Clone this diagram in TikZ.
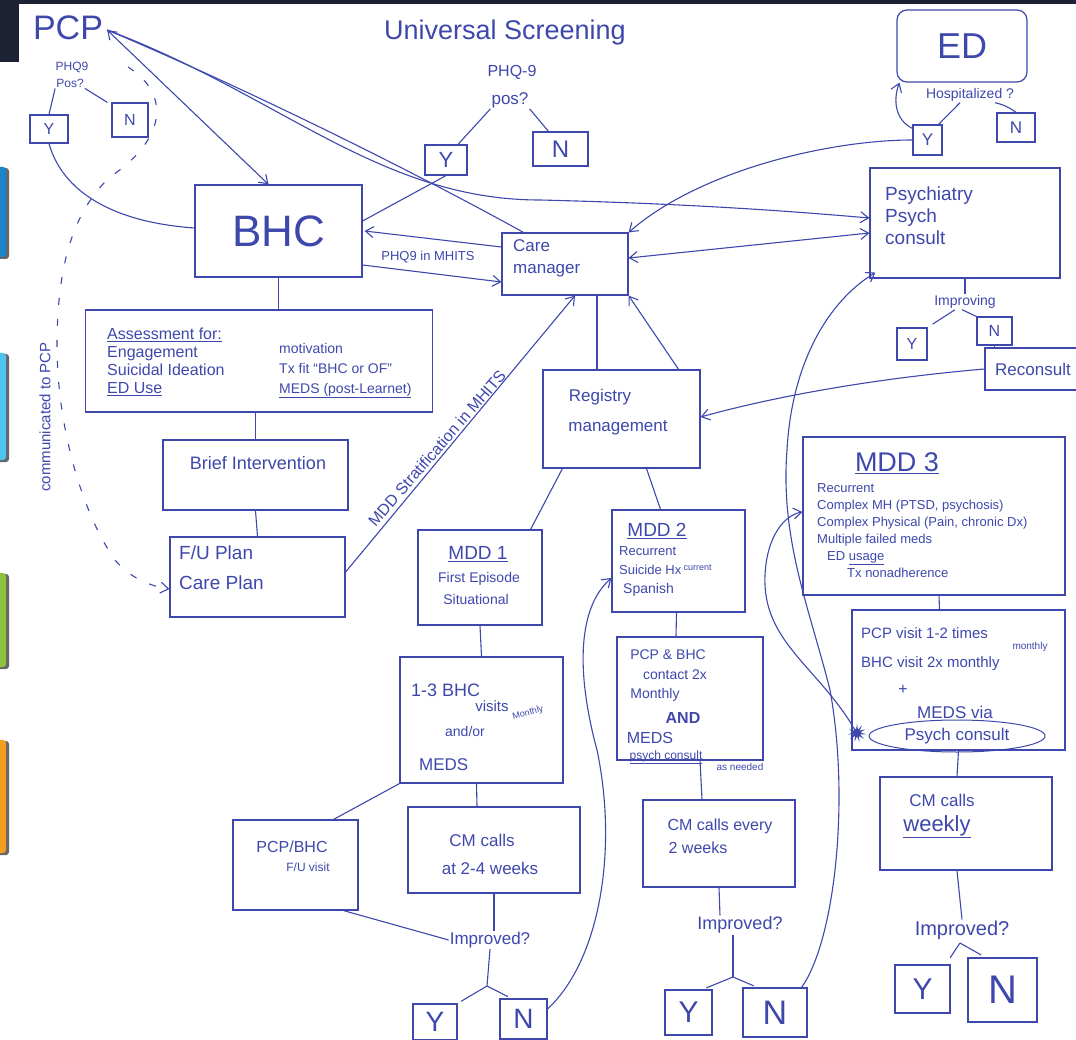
\documentclass[tikz,border=0pt]{standalone}
\usepackage{fontspec}
\setmainfont{Liberation Sans}
\usetikzlibrary{arrows.meta,shapes.geometric,calc}
\definecolor{ink}{RGB}{62,72,172}
\definecolor{navy}{RGB}{28,33,52}
\definecolor{tabA}{RGB}{27,132,200}
\definecolor{tabB}{RGB}{80,196,240}
\definecolor{tabC}{RGB}{140,196,62}
\definecolor{tabD}{RGB}{245,157,31}
\newcommand\fsz[2]{\fontsize{#1}{#2}\selectfont}
\begin{document}
\begin{tikzpicture}[x=1pt,y=-1pt,
  box/.style={draw=ink, line width=1.2pt, inner sep=0pt, text=ink},
  txt/.style={text=ink, inner sep=1pt},
  conn/.style={draw=ink, line width=1.1pt},
  arr/.style={conn, -{Straight Barb[length=8pt,width=11pt]}},
  arrb/.style={conn, {Straight Barb[length=8pt,width=11pt]}-{Straight Barb[length=8pt,width=11pt]}},
  yn/.style={box}]
\useasboundingbox (0,0) rectangle (1076,1040);
\fill[white] (0,0) rectangle (1076,1040);
% frame fragments
\fill[navy] (0,0) rectangle (1076,4);
\fill[navy] (0,0) rectangle (19,62);
\foreach \ya/\yb/\c in {167/257/tabA, 353/460/tabB, 573/667/tabC, 740/853/tabD} {
  \fill[black!60, rounded corners=3pt] (-10,\ya+1) rectangle (9,\yb+2);
  \fill[\c, rounded corners=3pt] (-10,\ya) rectangle (6,\yb);
}

% ---------- top left: PCP ----------
\node[txt, font=\fsz{34}{36}] (pcp) at (68,28) {PCP};
\node[txt, font=\fsz{12}{13}] (phqa) at (72,67) {PHQ9};
\node[txt, font=\fsz{12}{13}] (posa) at (70,83) {Pos?};
\node[yn, minimum width=38pt, minimum height=28pt, font=\fsz{16}{17}] (pcpy) at (49,129) {Y};
\node[yn, minimum width=36pt, minimum height=34pt, font=\fsz{16}{17}] (pcpn) at (130,120) {N};
\coordinate (dstart) at (128,67);

% ---------- title & PHQ-9 ----------
\node[txt, font=\fsz{27}{30}] (title) at (505,33) {Universal Screening};
\node[txt, font=\fsz{16}{18}] (phqb) at (512,72) {PHQ-9};
\node[txt, font=\fsz{17}{18}] (posb) at (510,100) {pos?};
\node[yn, minimum width=42pt, minimum height=30pt, font=\fsz{22}{24}] (phqy) at (446,160) {Y};
\node[yn, minimum width=55pt, minimum height=34pt, font=\fsz{24}{26}] (phqn) at (560.5,149) {N};

% ---------- ED ----------
\node[box, rounded corners=10pt, minimum width=130pt, minimum height=72pt, font=\fsz{36}{38}] (ed) at (962,46) {ED};
\node[txt, font=\fsz{14}{16}] (hosp) at (970,95) {Hospitalized ?};
\node[yn, minimum width=29pt, minimum height=30pt, font=\fsz{17}{18}] (edy) at (927.5,140) {Y};
\node[yn, minimum width=38pt, minimum height=29pt, font=\fsz{17}{18}] (edn) at (1016,127.5) {N};

% ---------- Psychiatry ----------
\node[box, minimum width=190pt, minimum height=110pt] (psych) at (965,223) {};
\node[txt, font=\fsz{19}{22}, align=left, anchor=north west] (psycht) at (884,186) {Psychiatry\\Psych\\consult};
\node[txt, font=\fsz{14}{16}] (impg) at (965,302) {Improving};
\node[yn, minimum width=30pt, minimum height=32pt, font=\fsz{16}{17}] (pyy) at (912,344) {Y};
\node[yn, minimum width=35pt, minimum height=28pt, font=\fsz{16}{17}] (pyn) at (994.5,331) {N};
\node[box, minimum width=96pt, minimum height=42pt, font=\fsz{17}{18}] (recon) at (1033,369) {Reconsult};

% ---------- BHC & Care manager ----------
\node[box, minimum width=167pt, minimum height=92pt, font=\fsz{44}{46}] (bhc) at (278.5,231) {BHC};
\node[box, minimum width=126pt, minimum height=62pt] (cm) at (565,264) {};
\node[txt, font=\fsz{17}{22}, align=left, anchor=north west] (cmt) at (512,238) {Care\\manager};
\node[txt, font=\fsz{13}{14}] (phqm) at (428,257) {PHQ9 in MHITS};

% ---------- left column ----------
\node[box, minimum width=347pt, minimum height=102pt] (assess) at (259,361) {};
\node[txt, font=\fsz{16}{18}, align=left, anchor=north west] (asl) at (106,327) {\underline{Assessment for:}\\Engagement\\Suicidal Ideation\\\underline{ED Use}};
\node[txt, font=\fsz{14}{20}, align=left, anchor=north west] (asr) at (278,342) {motivation\\Tx fit ``BHC or OF''\\\underline{MEDS (post-Learnet)}};
\node[box, minimum width=185pt, minimum height=70pt] (brief) at (255.5,475) {};
\node[txt, font=\fsz{18}{20}] (brieft) at (258,463) {Brief Intervention};
\node[box, minimum width=175pt, minimum height=80pt] (fu) at (257.5,577) {};
\node[txt, font=\fsz{19}{30}, align=left, anchor=north west] (fut) at (178,545) {F/U Plan\\Care Plan};
\node[txt, font=\fsz{16}{17}, rotate=49] (strat) at (437,448) {MDD Stratification in MHITS};
\node[txt, font=\fsz{15}{16}, rotate=90] (comm) at (45,417) {communicated to PCP};

% ---------- Registry ----------
\node[box, minimum width=157pt, minimum height=98pt] (reg) at (621.5,419) {};
\node[txt, font=\fsz{17}{19}] (regt1) at (600,397) {Registry};
\node[txt, font=\fsz{17}{19}] (regt2) at (618,428) {management};

% ---------- MDD 1 ----------
\node[box, minimum width=124pt, minimum height=95pt] (mdd1) at (480,577.5) {};
\node[txt, font=\fsz{19}{20}] (m1a) at (478,554) {\underline{MDD 1}};
\node[txt, font=\fsz{14}{16}] (m1b) at (479,579) {First Episode};
\node[txt, font=\fsz{14}{16}] (m1c) at (476,599) {Situational};
\node[box, minimum width=163pt, minimum height=126pt] (bhc13) at (481.5,720) {};
\node[txt, font=\fsz{18}{20}, anchor=west] (b13a) at (410,690) {1-3 BHC};
\node[txt, font=\fsz{15}{16}] (b13b) at (492,706) {visits};
\node[txt, font=\fsz{9}{10}, rotate=15] (b13c) at (528,713) {Monthly};
\node[txt, font=\fsz{14}{15}] (b13d) at (465,731) {and/or};
\node[txt, font=\fsz{17}{18}, anchor=west] (b13e) at (418,765) {MEDS};
\node[box, minimum width=125pt, minimum height=90pt] (pcpbhc) at (295.5,865) {};
\node[txt, font=\fsz{16}{17}] (pba) at (292,847) {PCP/BHC};
\node[txt, font=\fsz{12}{13}] (pbb) at (308,867) {F/U visit};
\node[box, minimum width=172pt, minimum height=86pt] (cm1) at (494,850) {};
\node[txt, font=\fsz{17}{18}] (c1a) at (482,840) {CM calls};
\node[txt, font=\fsz{17}{18}] (c1b) at (490,868) {at 2-4 weeks};
\node[txt, font=\fsz{17}{18}] (imp1) at (490,940) {Improved?};
\node[yn, minimum width=44pt, minimum height=36pt, font=\fsz{28}{30}] (mdd1y) at (435,1022) {Y};
\node[yn, minimum width=47pt, minimum height=40pt, font=\fsz{28}{30}] (mdd1n) at (523.5,1019) {N};

% ---------- MDD 2 ----------
\node[box, minimum width=133pt, minimum height=102pt] (mdd2) at (678.5,561) {};
\node[txt, font=\fsz{19}{20}] (m2a) at (657,531) {\underline{MDD 2}};
\node[txt, font=\fsz{13}{14}, anchor=west] (m2b) at (618,551) {Recurrent};
\node[txt, font=\fsz{13}{14}, anchor=west] (m2c) at (618,570) {Suicide Hx\,\raisebox{4pt}{\fsz{9}{10}current}};
\node[txt, font=\fsz{14}{15}, anchor=west] (m2d) at (622,590) {Spanish};
\node[box, minimum width=146pt, minimum height=123pt] (contact) at (690,698.5) {};
\node[txt, font=\fsz{14}{15}] (cta) at (668,655) {PCP \& BHC};
\node[txt, font=\fsz{14}{15}] (ctb) at (675,675) {contact 2x};
\node[txt, font=\fsz{14}{15}] (ctc) at (655,695) {Monthly};
\node[txt, font=\fsz{16}{17}] (ctd) at (683,718) {\textbf{AND}};
\node[txt, font=\fsz{16}{17}] (cte) at (650,738) {MEDS};
\node[txt, font=\fsz{12}{13}] (ctf) at (666,757) {\underline{psych consult}};
\node[txt, font=\fsz{10}{11}] (ctg) at (740,767) {as needed};
\node[box, minimum width=152pt, minimum height=87pt] (cm2) at (719,843.5) {};
\node[txt, font=\fsz{16}{17}] (c2a) at (720,826) {CM calls every};
\node[txt, font=\fsz{16}{17}] (c2b) at (698,848) {2 weeks};
\node[txt, font=\fsz{18}{20}] (imp2) at (740,925) {Improved?};
\node[yn, minimum width=47pt, minimum height=45pt, font=\fsz{30}{32}] (mdd2y) at (688.5,1012.5) {Y};
\node[yn, minimum width=64pt, minimum height=49pt, font=\fsz{34}{36}] (mdd2n) at (775,1012.5) {N};

% ---------- MDD 3 ----------
\node[box, minimum width=262pt, minimum height=158pt] (mdd3) at (934,516) {};
\node[txt, font=\fsz{27}{29}] (m3a) at (897,463) {\underline{MDD 3}};
\node[txt, font=\fsz{13}{17}, align=left, anchor=north west] (m3b) at (816,482) {Recurrent\\Complex MH (PTSD, psychosis)\\Complex Physical (Pain, chronic Dx)\\Multiple failed meds\\\hspace{10pt}ED \underline{usage}\\\hspace{30pt}Tx nonadherence};
\node[box, minimum width=213pt, minimum height=140pt] (pcpv) at (958.5,680) {};
\node[txt, font=\fsz{15}{16}, anchor=west] (pva) at (860,633) {PCP visit 1-2 times};
\node[txt, font=\fsz{10}{11}] (pvb) at (1030,647) {monthly};
\node[txt, font=\fsz{15}{16}, anchor=west] (pvc) at (860,664) {BHC visit 2x monthly};
\node[txt, font=\fsz{16}{17}] (pvd) at (903,690) {+};
\node[txt, font=\fsz{17}{18}] (pve) at (955,712) {MEDS via};
\node[txt, draw=ink, line width=1pt, ellipse, inner sep=0pt, minimum width=176pt, minimum height=32pt, font=\fsz{17}{18}] (pvf) at (957,736) {Psych consult};
\node[star, star points=11, star point ratio=2.6, fill=ink, inner sep=0pt, minimum size=18pt] (star) at (857,733) {};
\node[box, minimum width=172pt, minimum height=93pt] (cm3) at (966,823.5) {};
\node[txt, font=\fsz{17}{18}] (c3a) at (942,800) {CM calls};
\node[txt, font=\fsz{22}{24}] (c3b) at (937,827) {\underline{weekly}};
\node[txt, font=\fsz{20}{22}] (imp3) at (962,930) {Improved?};
\node[yn, minimum width=55pt, minimum height=48pt, font=\fsz{30}{32}] (mdd3y) at (922.5,989) {Y};
\node[yn, minimum width=69pt, minimum height=64pt, font=\fsz{40}{42}] (mdd3n) at (1002.5,990) {N};
\coordinate (b3) at (960,943);

% ---------- connectors: top ----------
\draw[arrb] ([xshift=3pt,yshift=-2pt]pcp.east) -- ([xshift=-10pt]bhc.north);
\draw[conn] ([xshift=3pt,yshift=-2pt]pcp.east) .. controls (250,90) and (420,175) .. ([xshift=22pt]cm.north west);
\draw[arr] ([xshift=3pt,yshift=-2pt]pcp.east) .. controls (280,95) and (380,200) .. (540,200) .. controls (700,204) and (800,212) .. ([yshift=5pt]psych.west);
\draw[conn] (posa.south west) -- (pcpy.north);
\draw[conn] (posa.south east) -- ([xshift=-4pt]pcpn.north west);
\draw[conn] (pcpy.south) .. controls (62,190) and (110,222) .. ([yshift=3pt]bhc.west);
\draw[conn] (posb.south west) -- ([xshift=12pt]phqy.north);
\draw[conn] (posb.south east) -- ([xshift=-12pt]phqn.north);
\draw[conn] (phqy.south) -- ([yshift=10pt]bhc.east);
\draw[arr] ([yshift=17pt]cm.west) -- ([xshift=2pt]bhc.east);
\draw[arr] ([yshift=-34pt]bhc.east) -- ([yshift=-18pt]cm.west);
\draw[arrb] ([yshift=6pt]cm.east) -- ([yshift=-10pt]psych.west);
\draw[arr] (edy.west) .. controls (830,140) and (700,170) .. (cm.north east);
\draw[arr] ([yshift=-4pt]edy.north west) .. controls (895,120) and (893,100) .. ([xshift=3pt]ed.south west);
\draw[conn] ([xshift=-10pt]hosp.south) -- ([xshift=-4pt]edy.north east);
\draw[conn] ([xshift=25pt]hosp.south) .. controls (1005,105) and (1010,108) .. (edn.north);
\draw[conn] (psych.south) -- (impg.north);
\draw[conn, shorten >=6pt] ([xshift=-10pt]impg.south) -- (pyy.north east);
\draw[conn] ([xshift=-3pt]impg.south) -- (pyn.north west);
\draw[conn] (pyn.south) -- (pyn.south |- recon.north);
\draw[arr] (recon.west) .. controls (880,378) and (780,395) .. ([yshift=2pt]reg.east);

% ---------- connectors: left column ----------
\draw[conn] (bhc.south) -- (bhc.south |- assess.north);
\draw[conn] (brief.north |- assess.south) -- (brief.north);
\draw[conn] (brief.south) -- (fu.north);
\draw[arr] ([yshift=5pt]fu.east) -- ([xshift=10pt]cm.south);
\draw[conn, dash pattern=on 7pt off 14pt, -{Straight Barb[length=8pt,width=11pt]}] (dstart) .. controls (172,95) and (165,140) .. (110,177) .. controls (75,210) and (58,260) .. (57,340) .. controls (56,420) and (80,510) .. (115,560) .. controls (130,578) and (150,586) .. ([yshift=-12pt]fu.west);

% ---------- connectors: registry ----------
\coordinate (cmr) at ($(cm.south)+(32,0)$);
\draw[conn] (cmr) -- (cmr |- reg.north);
\draw[arr] ([xshift=-22pt]reg.north east) -- (cm.south east);
\draw[conn] ([xshift=20pt]reg.south west) -- ([xshift=-12pt]mdd1.north east);
\draw[conn] ([xshift=25pt]reg.south) -- ([xshift=-18pt]mdd2.north);

% ---------- MDD1 column ----------
\draw[conn] (mdd1.south) -- (bhc13.north);
\draw[conn] (bhc13.south west) -- ([xshift=-25pt]pcpbhc.north east);
\draw[conn] ([xshift=-5pt]bhc13.south) -- ([xshift=-17pt]cm1.north);
\draw[conn] (cm1.south) -- ([xshift=4pt]imp1.north);
\draw[conn] ([xshift=-15pt]pcpbhc.south east) -- (imp1.west);
\coordinate (b1) at (487,986);
\draw[conn] (imp1.south) -- (b1);
\draw[conn, shorten >=4pt] (b1) -- (mdd1y.north east);
\draw[conn, shorten >=4pt] (b1) -- ([xshift=12pt]mdd1n.north west);

% ---------- MDD2 column ----------
\draw[conn] ([xshift=-2pt]mdd2.south) -- ([xshift=-14pt]contact.north);
\draw[conn] ([xshift=10pt]contact.south) -- ([xshift=-17pt]cm2.north);
\draw[conn] (cm2.south) -- ([xshift=-20pt]imp2.north);
\coordinate (b2) at (733,977);
\draw[conn] ([xshift=-7pt]imp2.south) -- (b2);
\draw[conn, shorten >=4pt] (b2) -- ([xshift=-10pt]mdd2y.north east);
\draw[conn, shorten >=4pt] (b2) -- ([xshift=15pt]mdd2n.north west);

% ---------- MDD3 column ----------
\draw[conn] ([xshift=5pt]mdd3.south) -- ([xshift=-19pt]pcpv.north);
\draw[conn] (pcpv.south) -- ([xshift=-9pt]cm3.north);
\draw[conn] ([xshift=-9pt]cm3.south) -- (imp3.north);
\draw[conn, shorten <=8pt] ([xshift=-5pt]mdd3y.north east) -- (b3);
\draw[conn, shorten <=5pt] ([xshift=18pt]mdd3n.north west) -- (b3);

% ---------- long curves ----------
\draw[arr] ([yshift=10pt]mdd1n.east) .. controls (600,960) and (618,850) .. (597,750) .. controls (578,680) and (575,610) .. ([yshift=-17pt]mdd2.west);
\draw[arr] ([xshift=-6pt]mdd2n.north east) .. controls (835,940) and (850,800) .. (830,690) .. controls (810,610) and (780,540) .. (787,450) .. controls (792,360) and (830,300) .. ([xshift=6pt,yshift=6pt]psych.south west);
\draw[arr] (star) .. controls (815,665) and (762,640) .. (765,575) .. controls (767,535) and (785,515) .. ([yshift=4pt]mdd3.west);
\end{tikzpicture}
\end{document}
